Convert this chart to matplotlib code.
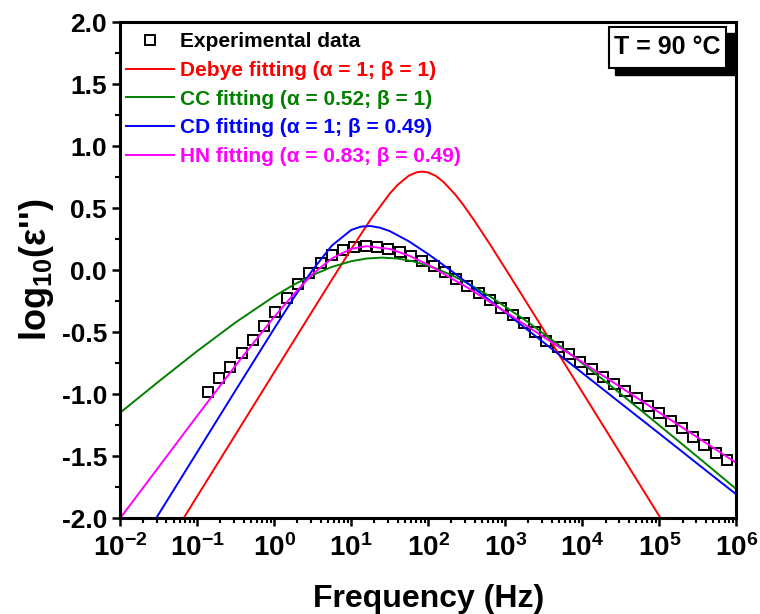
import matplotlib
matplotlib.use('Agg')
import matplotlib.pyplot as plt
import numpy as np
from matplotlib.patches import Rectangle
from matplotlib.ticker import LogLocator, MultipleLocator, NullFormatter, FormatStrFormatter

# experimental points (Hz, log10 eps'')
exp_freq = [0.137, 0.193, 0.270, 0.378, 0.530, 0.743, 1.04, 1.46, 2.04, 2.86,
            4.01, 5.62, 7.87, 11.0, 15.5, 21.7, 30.4, 42.6, 59.7, 83.6,
            117, 164, 230, 322, 452, 634, 887, 1245, 1742, 2443,
            3420, 4797, 6714, 9419, 13180, 18490, 25880, 36310, 50820, 71290,
            99770, 140000, 195900, 274800, 384600, 539500, 755100]
exp_val = [-0.979, -0.871, -0.777, -0.669, -0.562, -0.449, -0.334, -0.223, -0.113, -0.024,
           0.056, 0.121, 0.164, 0.185, 0.198, 0.190, 0.172, 0.145, 0.115, 0.077,
           0.030, -0.018, -0.072, -0.128, -0.184, -0.243, -0.305, -0.365, -0.430, -0.500,
           -0.568, -0.621, -0.677, -0.737, -0.796, -0.858, -0.917, -0.971, -1.032, -1.094,
           -1.153, -1.213, -1.274, -1.342, -1.409, -1.471, -1.530]

# fitted curves (log10 frequency, log10 eps'')
debye_logf = [-1.2, -1.0, -0.5, 0.0, 0.5, 0.75, 1.0, 1.25, 1.5, 1.6, 1.75, 1.85, 1.92, 2.0,
              2.1, 2.2, 2.35, 2.45, 2.6, 2.8, 3.0, 3.25, 3.5, 4.0, 4.5, 5.0, 5.05]
debye_val = [-2.024, -1.824, -1.324, -0.824, -0.325, -0.076, 0.170, 0.407, 0.617, 0.686, 0.763, 0.789, 0.795, 0.788,
             0.759, 0.710, 0.610, 0.530, 0.398, 0.209, 0.013, -0.235, -0.484, -0.984, -1.484, -1.984, -2.034]

cc_logf = [-2.0, -1.5, -1.0, -0.5, 0.0, 0.25, 0.5, 0.75, 1.0, 1.2, 1.4, 1.6, 1.8, 2.05,
           2.3, 2.55, 2.8, 3.3, 3.8, 4.3, 4.8, 5.3, 5.65, 6.0]
cc_val = [-1.150, -0.898, -0.653, -0.421, -0.211, -0.119, -0.039, 0.026, 0.072, 0.094, 0.101, 0.094, 0.072, 0.026,
          -0.039, -0.119, -0.211, -0.421, -0.653, -0.898, -1.150, -1.405, -1.585, -1.766]

cd_logf = [-1.6, -1.5, -1.25, -1.0, -0.5, 0.0, 0.25, 0.5, 0.75, 1.0, 1.125, 1.25, 1.375, 1.5,
           1.75, 2.0, 2.25, 2.5, 3.0, 3.5, 4.0, 4.5, 5.0, 5.5, 6.0]
cd_val = [-2.068, -1.968, -1.718, -1.468, -0.968, -0.471, -0.227, 0.003, 0.199, 0.324, 0.351, 0.356, 0.342, 0.315,
          0.232, 0.129, 0.017, -0.100, -0.341, -0.584, -0.829, -1.074, -1.318, -1.564, -1.809]

hn_logf = [-2.0, -1.5, -1.0, -0.5, 0.0, 0.25, 0.5, 0.75, 1.0, 1.2, 1.5, 1.75, 2.0, 2.25,
           2.5, 3.0, 3.5, 4.0, 4.5, 5.0, 5.5, 6.0]
hn_val = [-2.001, -1.588, -1.175, -0.768, -0.377, -0.197, -0.030, 0.095, 0.172, 0.193, 0.171, 0.117, 0.043, -0.048,
          -0.137, -0.336, -0.540, -0.742, -0.945, -1.148, -1.351, -1.555]

labels = ['Experimental data',
          'Debye fitting (\u03b1 = 1; \u03b2 = 1)',
          'CC fitting (\u03b1 = 0.52; \u03b2 = 1)',
          'CD fitting (\u03b1 = 1; \u03b2 = 0.49)',
          'HN fitting (\u03b1 = 0.83; \u03b2 = 0.49)']
colors = ['black', '#ff0000', '#008000', '#0000ff', '#ff00ff']
xtick_vals = [1e-2, 1e-1, 1e0, 1e1, 1e2, 1e3, 1e4, 1e5, 1e6]
xtick_labels = [r'$10^{-2}$', r'$10^{-1}$', r'$10^{0}$', r'$10^{1}$', r'$10^{2}$',
                r'$10^{3}$', r'$10^{4}$', r'$10^{5}$', r'$10^{6}$']

plt.rcParams['font.family'] = ['Liberation Sans', 'DejaVu Sans']
plt.rcParams['font.weight'] = 'bold'
plt.rcParams['mathtext.fontset'] = 'custom'
plt.rcParams['mathtext.rm'] = 'Liberation Sans:bold'
plt.rcParams['mathtext.bf'] = 'Liberation Sans:bold'
plt.rcParams['mathtext.it'] = 'Liberation Sans:bold'
plt.rcParams['axes.unicode_minus'] = False

fig = plt.figure(figsize=(7.6, 6.14), dpi=100)
ax = fig.add_axes([0.158, 0.156, 0.811, 0.808])

ax.plot(exp_freq, exp_val, linestyle='none', marker='s', markersize=7.5,
        markerfacecolor='none', markeredgecolor='black', markeredgewidth=1.4, label=labels[0])
curves = [(debye_logf, debye_val), (cc_logf, cc_val), (cd_logf, cd_val), (hn_logf, hn_val)]
for (lf, v), lab, col in zip(curves, labels[1:], colors[1:]):
    ax.plot(np.power(10.0, lf), v, color=col, linewidth=1.4, label=lab)

ax.set_xscale('log')
ax.set_xlim(1e-2, 1e6)
ax.set_ylim(-2, 2)
ax.set_xticks(xtick_vals)
ax.set_xticklabels(xtick_labels)
ax.xaxis.set_minor_locator(LogLocator(base=10, subs=np.arange(2, 10), numticks=50))
ax.xaxis.set_minor_formatter(NullFormatter())
ax.yaxis.set_major_locator(MultipleLocator(0.5))
ax.yaxis.set_minor_locator(MultipleLocator(0.25))
ax.yaxis.set_major_formatter(FormatStrFormatter('%.1f'))

ax.tick_params(which='both', direction='out', top=False, right=False)
ax.tick_params(which='major', length=6, width=1.8, labelsize=19)
ax.tick_params(axis='x', which='major', labelsize=20, pad=5.5)
ax.tick_params(which='minor', length=3.5, width=1.5)
for s in ax.spines.values():
    s.set_linewidth(2.2)

ax.set_xlabel('Frequency (Hz)', fontsize=23, fontweight='bold', labelpad=16)
ax.set_ylabel("log$_{10}$(\u03b5'')", fontsize=26, fontweight='bold', labelpad=4)

leg = ax.legend(loc='upper left', bbox_to_anchor=(0.0097, 0.98), frameon=False,
                prop={'weight': 'bold', 'size': 15}, handlelength=2.3, handletextpad=0.3,
                labelspacing=0.47, borderaxespad=0, borderpad=0, numpoints=1)
for t, col in zip(leg.get_texts(), colors):
    t.set_color(col)

# temperature box with shadow
ax.add_patch(Rectangle((0.8027, 0.8938), 0.1957, 0.0842, transform=ax.transAxes,
                       facecolor='black', edgecolor='black', zorder=5, clip_on=False))
ax.add_patch(Rectangle((0.793, 0.9073), 0.1908, 0.0837, transform=ax.transAxes,
                       facecolor='white', edgecolor='black', linewidth=1.5, zorder=6, clip_on=False))
ax.text(0.8884, 0.9491, 'T = 90 \u00b0C', transform=ax.transAxes, ha='center', va='center',
        fontsize=18, fontweight='bold', zorder=7)

fig.savefig('out.png', dpi=100)
